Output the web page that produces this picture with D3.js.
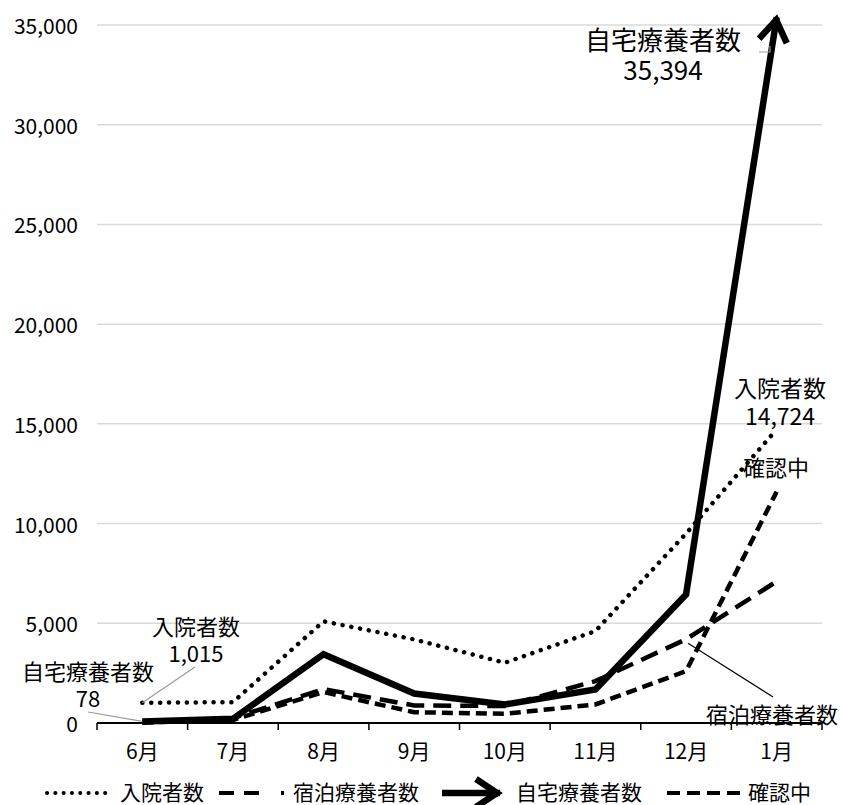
<!DOCTYPE html>
<html>
<head>
<meta charset="utf-8">
<script src="https://cdn.jsdelivr.net/npm/d3@7"></script>
<style>
  body { margin: 0; background: #fff; }
  svg { font-family: "Noto Sans CJK JP", "Noto Sans", sans-serif; }
</style>
</head>
<body>
<div id="chart"></div>
<script>
// data
const months = ["6月", "7月", "8月", "9月", "10月", "11月", "12月", "1月"];
const hospital = [1015, 1045, 5100, 4190, 3020, 4610, 9500, 14724];   // 入院者数
const hotel = [30, 250, 1700, 880, 850, 2100, 4200, 7100];            // 宿泊療養者数
const home = [78, 210, 3450, 1480, 930, 1680, 6450, 35394];           // 自宅療養者数
const pending = [20, 150, 1550, 540, 460, 930, 2600, 11600];          // 確認中
const yTicks = [0, 5000, 10000, 15000, 20000, 25000, 30000, 35000];

const width = 843;
const height = 805;

const svg = d3.select("#chart")
  .append("svg")
  .attr("width", width)
  .attr("height", height);

const x = d3.scaleBand().domain(months).range([97, 822]);
const y = d3.scaleLinear().domain([0, 35000]).range([723, 25]);
const fmt = d3.format(",");

// arrow head
svg.append("defs").append("marker")
  .attr("id", "arrow")
  .attr("markerUnits", "userSpaceOnUse")
  .attr("viewBox", "-30 -20 40 40")
  .attr("markerWidth", 40)
  .attr("markerHeight", 40)
  .attr("refX", 3)
  .attr("refY", 0)
  .attr("orient", "auto")
  .append("path")
  .attr("d", "M-21,-14L0,0L-21,14")
  .attr("fill", "none")
  .attr("stroke", "#000")
  .attr("stroke-width", 6.5);

// grid
svg.append("g")
  .selectAll("line")
  .data(yTicks.filter(d => d > 0))
  .enter().append("line")
  .attr("x1", 97).attr("x2", 822)
  .attr("y1", d => y(d)).attr("y2", d => y(d))
  .attr("stroke", "#d9d9d9")
  .attr("stroke-width", 1.5);

// y labels
svg.append("g")
  .selectAll("text")
  .data(yTicks)
  .enter().append("text")
  .attr("x", 78)
  .attr("y", d => y(d))
  .attr("text-anchor", "end")
  .attr("dominant-baseline", "central")
  .style("font-size", "21px")
  .text(d => fmt(d));

// x axis
const xAxis = svg.append("g").attr("transform", "translate(0," + y(0) + ")");
xAxis.append("line")
  .attr("x1", 97).attr("x2", 822)
  .attr("stroke", "#000").attr("stroke-width", 1.8);
xAxis.selectAll(".tick")
  .data(months.concat([null]))
  .enter().append("line")
  .attr("x1", (d, i) => x.range()[0] + i * x.bandwidth())
  .attr("x2", (d, i) => x.range()[0] + i * x.bandwidth())
  .attr("y1", 0).attr("y2", 7)
  .attr("stroke", "#000").attr("stroke-width", 1.5);
xAxis.selectAll("text")
  .data(months)
  .enter().append("text")
  .attr("x", d => x(d) + x.bandwidth() / 2)
  .attr("y", 27)
  .attr("text-anchor", "middle")
  .attr("dominant-baseline", "central")
  .style("font-size", "21px")
  .text(d => d);

// lines
const line = d3.line()
  .x((d, i) => x(months[i]) + x.bandwidth() / 2)
  .y(d => y(d));

const series = [
  { name: "入院者数", values: hospital, width: 4.5, dash: "0.1,8.8", cap: "round" },
  { name: "宿泊療養者数", values: hotel, width: 4.5, dash: "18,9", cap: "butt" },
  { name: "自宅療養者数", values: home, width: 6.5, dash: null, cap: "butt", arrow: true },
  { name: "確認中", values: pending, width: 4.5, dash: "11,6", cap: "butt" }
];

svg.append("g")
  .selectAll("path")
  .data(series)
  .enter().append("path")
  .attr("d", d => line(d.values))
  .attr("fill", "none")
  .attr("stroke", "#000")
  .attr("stroke-width", d => d.width)
  .attr("stroke-dasharray", d => d.dash)
  .attr("stroke-linecap", d => d.cap)
  .attr("stroke-linejoin", "miter")
  .attr("marker-end", d => d.arrow ? "url(#arrow)" : null);

// labels on the chart
const px = i => x(months[i]) + x.bandwidth() / 2;
const last = months.length - 1;

function label(lines, cx, cy, size, lh) {
  const t = svg.append("text")
    .attr("text-anchor", "middle")
    .style("font-size", size + "px");
  lines.forEach((s, k) => {
    t.append("tspan")
      .attr("x", cx)
      .attr("y", cy + k * lh)
      .attr("dominant-baseline", "central")
      .text(s);
  });
}

// 自宅 last
label(["自宅療養者数", fmt(home[last])], 663, 38, 26, 30);
svg.append("polyline")
  .attr("points", [[759, 52], [770, 52], [770, 46]].join(" "))
  .attr("fill", "none").attr("stroke", "#999").attr("stroke-width", 1.2);

// 入院 last
label(["入院者数", fmt(hospital[last])], 780, 387, 23, 28);
// 確認中 last
label(["確認中"], 776, 466, 22, 0);
// 宿泊 12月
label(["宿泊療養者数"], 772, 713, 22, 0);
svg.append("line")
  .attr("x1", px(6) + 2).attr("y1", y(hotel[6]) + 4)
  .attr("x2", 773).attr("y2", 697)
  .attr("stroke", "#000").attr("stroke-width", 1.2);

// 入院 first
label(["入院者数", fmt(hospital[0])], 196, 625, 22, 27);
svg.append("line")
  .attr("x1", 195).attr("y1", 667)
  .attr("x2", px(0)).attr("y2", y(hospital[0]))
  .attr("stroke", "#999").attr("stroke-width", 1.2);

// 自宅 first
label(["自宅療養者数", fmt(home[0])], 88, 670, 22, 27);
svg.append("line")
  .attr("x1", 88).attr("y1", 712)
  .attr("x2", px(0)).attr("y2", y(home[0]))
  .attr("stroke", "#999").attr("stroke-width", 1.2);

// legend
const legendY = 791;
const legend = [
  { s: series[0], x0: 47, x1: 113, tx: 120 },
  { s: series[1], x0: 219, x1: 284, tx: 293 },
  { s: series[2], x0: 442, x1: 500, tx: 516 },
  { s: series[3], x0: 667, x1: 741, tx: 748 }
];
const lg = svg.append("g").selectAll("g").data(legend).enter().append("g");
lg.append("line")
  .attr("x1", d => d.x0).attr("x2", d => d.x1)
  .attr("y1", legendY + 2).attr("y2", legendY + 2)
  .attr("stroke", "#000")
  .attr("stroke-width", d => d.s.arrow ? 6.5 : 4)
  .attr("stroke-dasharray", d => d.s.name === "入院者数" ? "0.1,8.2" : d.s.name === "宿泊療養者数" ? "15,10,15,22,3" : d.s.name === "確認中" ? "13,7" : null)
  .attr("stroke-linecap", d => d.s.cap)
  .attr("marker-end", d => d.s.arrow ? "url(#arrow)" : null);
lg.append("text")
  .attr("x", d => d.tx)
  .attr("y", legendY)
  .attr("dominant-baseline", "central")
  .style("font-size", "21px")
  .text(d => d.s.name);
</script>
</body>
</html>
